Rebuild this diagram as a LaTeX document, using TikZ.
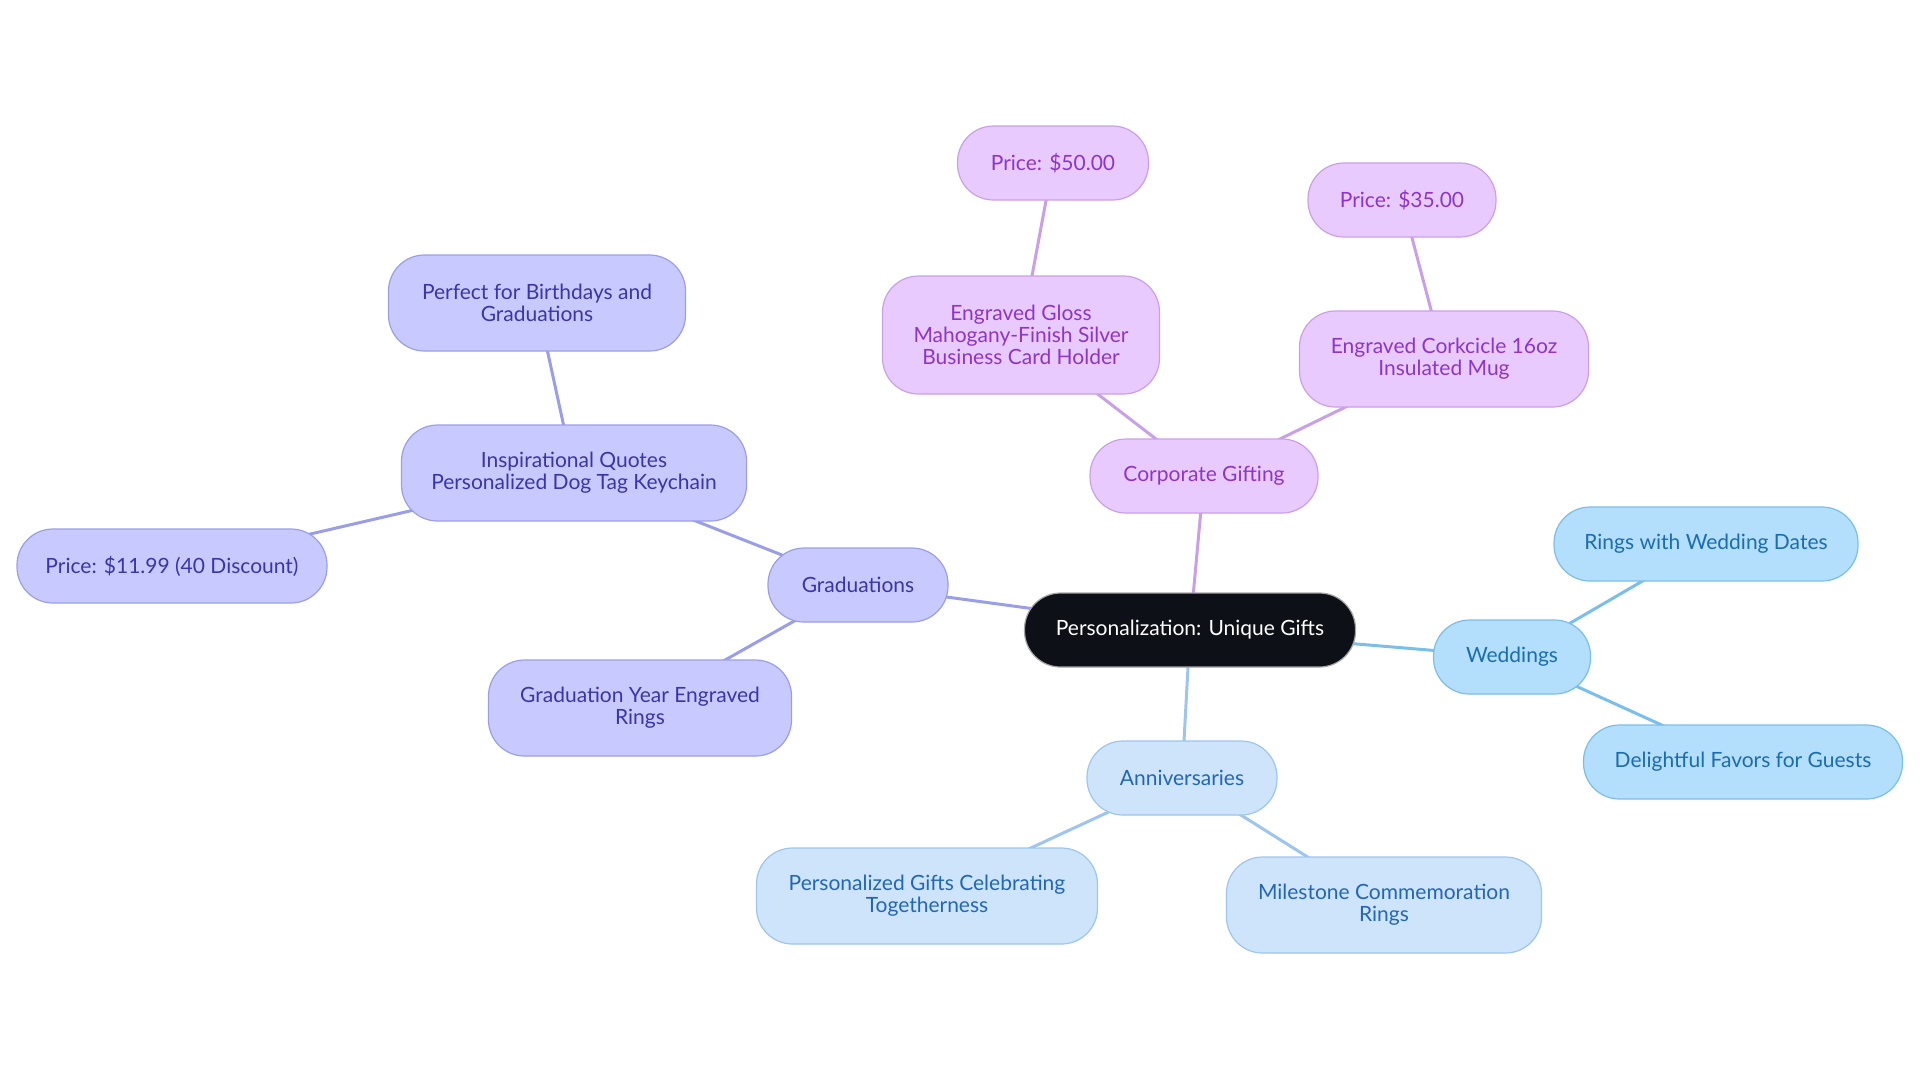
\documentclass[tikz,border=0pt]{standalone}
\usepackage{fontspec}
\setmainfont{Lato}
\usepackage{tikz}
\usetikzlibrary{positioning,backgrounds}
\definecolor{rootfill}{RGB}{13,17,23}
\definecolor{gradfill}{RGB}{200,202,255}
\definecolor{graddraw}{RGB}{154,158,232}
\definecolor{gradtext}{RGB}{58,53,168}
\definecolor{annfill}{RGB}{206,228,251}
\definecolor{anndraw}{RGB}{158,197,238}
\definecolor{anntext}{RGB}{34,102,184}
\definecolor{wedfill}{RGB}{179,222,252}
\definecolor{weddraw}{RGB}{122,190,235}
\definecolor{wedtext}{RGB}{26,109,176}
\definecolor{corpfill}{RGB}{233,202,255}
\definecolor{corpdraw}{RGB}{201,160,232}
\definecolor{corptext}{RGB}{142,53,199}
\tikzset{
  box/.style={rounded corners=18pt, align=center, inner xsep=4pt,
    minimum height=37pt, line width=0.6pt,
    font=\fontsize{10.5}{11}\selectfont},
  rootbox/.style={box, fill=rootfill, draw=gray!70, text=white},
  gradbox/.style={box, fill=gradfill, draw=graddraw, text=gradtext},
  annbox/.style={box, fill=annfill, draw=anndraw, text=anntext},
  wedbox/.style={box, fill=wedfill, draw=weddraw, text=wedtext},
  corpbox/.style={box, fill=corpfill, draw=corpdraw, text=corptext},
  link/.style={line width=1.5pt}
}

\begin{document}
\begin{tikzpicture}[x=0.5pt,y=-0.5pt]
  \useasboundingbox (0,0) rectangle (1920,1083);

  % centre
  \node[rootbox, minimum width=165.5pt] (root) at (1190,630) {Personalization: Unique Gifts};

  % corporate gifting
  \node[corpbox, minimum width=114pt] (corp) at (1204,476) {Corporate Gifting};
  \node[corpbox, minimum width=138.5pt, minimum height=59pt] (gloss) at (1021,335)
    {Engraved Gloss\\Mahogany-Finish Silver\\Business Card Holder};
  \node[corpbox, minimum width=95.5pt] (price50) at (1053,163) {Price: \$50.00};
  \node[corpbox, minimum width=144.5pt, minimum height=48pt] (cork) at (1444,359)
    {Engraved Corkcicle 16oz\\Insulated Mug};
  \node[corpbox, minimum width=94pt] (price35) at (1402,200) {Price: \$35.00};

  % weddings
  \node[wedbox, minimum width=78.5pt] (wed) at (1512,657) {Weddings};
  \node[wedbox, minimum width=152pt] (rings) at (1706,544) {Rings with Wedding Dates};
  \node[wedbox, minimum width=159.5pt] (favors) at (1743,762) {Delightful Favors for Guests};

  % anniversaries
  \node[annbox, minimum width=95pt] (ann) at (1182,778) {Anniversaries};
  \node[annbox, minimum width=170.5pt, minimum height=48pt] (together) at (927,896)
    {Personalized Gifts Celebrating\\Togetherness};
  \node[annbox, minimum width=157.5pt, minimum height=48pt] (milestone) at (1384,905)
    {Milestone Commemoration\\Rings};

  % graduations
  \node[gradbox, minimum width=90pt] (grad) at (858,585) {Graduations};
  \node[gradbox, minimum width=172.5pt, minimum height=48pt] (quotes) at (574,473)
    {Inspirational Quotes\\Personalized Dog Tag Keychain};
  \node[gradbox, minimum width=148.5pt, minimum height=48pt] (perfect) at (537,303)
    {Perfect for Birthdays and\\Graduations};
  \node[gradbox, minimum width=155pt] (price11) at (172,566) {Price: \$11.99 (40 Discount)};
  \node[gradbox, minimum width=151.5pt, minimum height=48pt] (gradyear) at (640,708)
    {Graduation Year Engraved\\Rings};

  \begin{scope}[on background layer]
    \foreach \a/\b in {root/corp, corp/gloss, gloss/price50, corp/cork, cork/price35}
      \draw[link, draw=corpdraw] (\a.center) -- (\b.center);
    \foreach \a/\b in {root/wed, wed/rings, wed/favors}
      \draw[link, draw=weddraw] (\a.center) -- (\b.center);
    \foreach \a/\b in {root/ann, ann/together, ann/milestone}
      \draw[link, draw=anndraw] (\a.center) -- (\b.center);
    \foreach \a/\b in {root/grad, grad/quotes, quotes/perfect, quotes/price11, grad/gradyear}
      \draw[link, draw=graddraw] (\a.center) -- (\b.center);
  \end{scope}
\end{tikzpicture}
\end{document}
